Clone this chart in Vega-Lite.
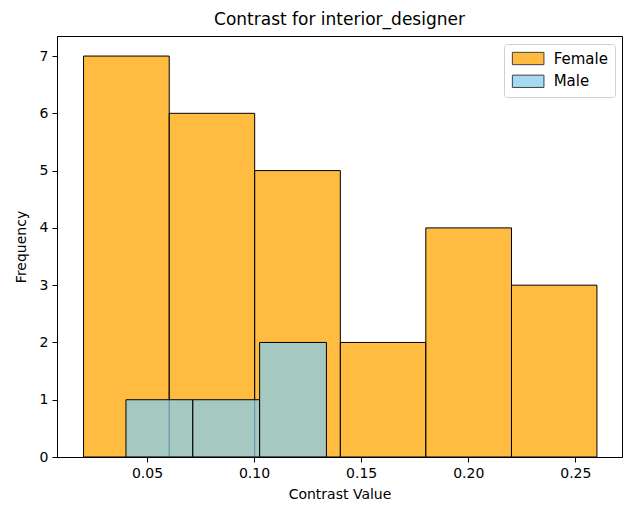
{
  "$schema": "https://vega.github.io/schema/vega-lite/v6.json",
  "width": 565,
  "height": 421,
  "autosize": {"type": "none"},
  "padding": {"left": 57, "top": 36, "right": 3, "bottom": 51},
  "title": {"text": "Contrast for interior_designer", "font": "DejaVu Sans", "fontSize": 17, "fontWeight": "normal", "color": "black", "offset": 7},
  "config": {
    "view": {"stroke": "black", "strokeWidth": 1},
    "axis": {"labelFont": "DejaVu Sans", "titleFont": "DejaVu Sans", "labelFontSize": 14, "titleFontSize": 14, "titleFontWeight": "normal", "labelColor": "black", "titleColor": "black", "tickColor": "black", "domainColor": "black", "grid": false, "tickSize": 5, "labelPadding": 4}
  },
  "data": {"values": [
    {"gender": "Female", "start": 0.0204, "end": 0.0604, "count": 7},
    {"gender": "Female", "start": 0.0604, "end": 0.1003, "count": 6},
    {"gender": "Female", "start": 0.1003, "end": 0.1403, "count": 5},
    {"gender": "Female", "start": 0.1403, "end": 0.1802, "count": 2},
    {"gender": "Female", "start": 0.1802, "end": 0.2202, "count": 4},
    {"gender": "Female", "start": 0.2202, "end": 0.2601, "count": 3},
    {"gender": "Male", "start": 0.0402, "end": 0.0714, "count": 1},
    {"gender": "Male", "start": 0.0714, "end": 0.1026, "count": 1},
    {"gender": "Male", "start": 0.1026, "end": 0.1338, "count": 2}
  ]},
  "mark": {"type": "rect", "fillOpacity": 0.75, "stroke": "black", "strokeWidth": 1},
  "encoding": {
    "x": {"field": "start", "type": "quantitative", "scale": {"domain": [0.008, 0.2718], "nice": false, "zero": false}, "axis": {"values": [0.05, 0.1, 0.15, 0.2, 0.25], "format": ".2f", "title": "Contrast Value", "titlePadding": 7}},
    "x2": {"field": "end"},
    "y": {"field": "count", "type": "quantitative", "scale": {"domain": [0, 7.35], "nice": false}, "axis": {"values": [0, 1, 2, 3, 4, 5, 6, 7], "title": "Frequency", "titlePadding": 11}},
    "y2": {"datum": 0},
    "color": {"field": "gender", "type": "nominal", "scale": {"domain": ["Female", "Male"], "range": ["#FFA500", "#87CEEB"]}, "legend": {"title": null, "orient": "top-right", "offset": 7.5, "padding": 7, "strokeColor": "#d0d0d0", "fillColor": "white", "cornerRadius": 3, "labelFont": "DejaVu Sans", "labelFontSize": 15, "labelColor": "black", "symbolType": "M-2.57,-1H2.57V1H-2.57Z", "symbolSize": 151, "symbolOffset": 9.65, "symbolStrokeColor": "black", "symbolStrokeWidth": 1, "symbolOpacity": 0.75, "rowPadding": 5.8, "labelOffset": 18}},
    "order": {"field": "gender"}
  }
}
